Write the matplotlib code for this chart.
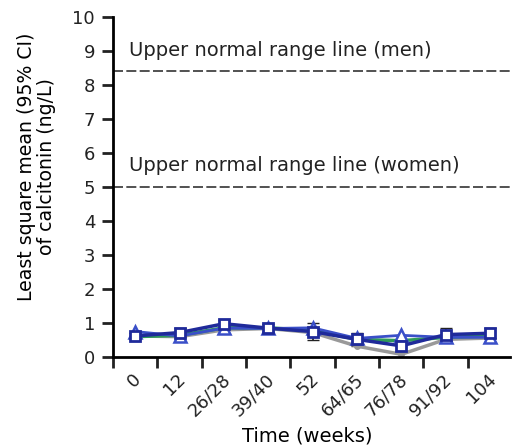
import matplotlib.pyplot as plt
import matplotlib.transforms as mtransforms
import numpy as np

plt.rcParams['font.family'] = ['DejaVu Sans']

weeks = ["0", "12", "26/28", "39/40", "52", "64/65", "76/78", "91/92", "104"]
grey_vals = [0.62, 0.60, 0.80, 0.84, 0.72, 0.32, 0.08, 0.52, 0.56]
green_vals = [0.60, 0.64, 0.86, 0.86, 0.78, 0.52, 0.48, 0.58, 0.62]
tri_vals = [0.75, 0.62, 0.85, 0.84, 0.86, 0.55, 0.64, 0.58, 0.58]
sq_vals = [0.62, 0.72, 0.98, 0.85, 0.75, 0.52, 0.33, 0.66, 0.70]
sq_err = [0.08, 0.12, 0.1, 0.12, 0.26, 0.2, 0.15, 0.2, 0.14]
men_limit = 8.4
women_limit = 5.0

ticks = np.arange(len(weeks))
x = ticks + 0.5  # points sit between the tick marks

fig = plt.figure(figsize=(5.12, 4.48), dpi=100)
ax = fig.add_axes([0.221, 0.203, 0.775, 0.759])

ax.axhline(men_limit, color="#333333", lw=1.2, ls=(0, (6, 2)))
ax.axhline(women_limit, color="#333333", lw=1.2, ls=(0, (6, 2)))
ax.text(0.36, 8.85, "Upper normal range line (men)", fontsize=14, color="#222222", va="baseline")
ax.text(0.36, 5.47, "Upper normal range line (women)", fontsize=14, color="#222222", va="baseline")

ax.errorbar(x, sq_vals, yerr=sq_err, fmt="none", ecolor="#222222", capsize=4, lw=1.2)
ax.plot(x, grey_vals, color="#999999", lw=2.5, marker="o", ms=4)
ax.plot(x, green_vals, color="#2e9a5a", lw=2.5)
ax.plot(x, tri_vals, color="#3a4fc8", lw=2, marker="^", ms=8, mfc="white", mew=1.8)
ax.plot(x, sq_vals, color="#1f2a9a", lw=2.5, marker="s", ms=7, mfc="white", mew=2)

ax.set_xlim(0, 8.95)
ax.set_ylim(0, 10)
ax.set_yticks(range(0, 11))
ax.set_xticks(ticks)
ax.set_xticklabels([])
shift = mtransforms.ScaledTranslation(-3 / 100, -13 / 100, fig.dpi_scale_trans)
for xi, w in zip(x, weeks):
    ax.text(xi, 0, w, transform=ax.get_xaxis_transform() + shift, rotation=45,
            ha="right", va="top", rotation_mode="anchor", fontsize=13, color="#222222")
ax.tick_params(labelsize=13, width=2, length=8, colors="#222222")
ax.tick_params(axis="y", pad=5)
ax.spines["top"].set_visible(False)
ax.spines["right"].set_visible(False)
ax.spines["left"].set_linewidth(2)
ax.spines["bottom"].set_linewidth(2)
ax.set_xlabel("Time (weeks)", fontsize=14)
ax.xaxis.set_label_coords(0.49, -0.205)
ax.set_ylabel("Least square mean (95% CI)\nof calcitonin (ng/L)", fontsize=13.6, linespacing=1.05)
ax.yaxis.set_label_coords(-0.145, 0.56)

fig.savefig("out.png", dpi=100)
